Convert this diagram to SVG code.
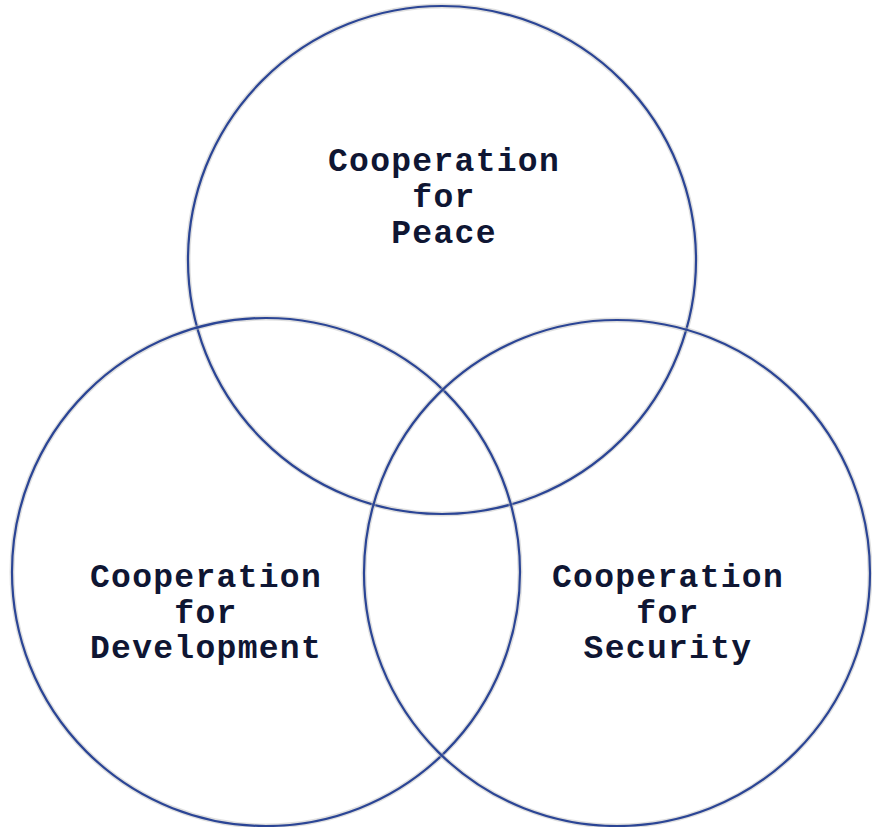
<svg xmlns="http://www.w3.org/2000/svg" width="872" height="827" viewBox="0 0 872 827">
  <style>
    .halo { fill: none; stroke: #b8b8b8; stroke-width: 5; stroke-opacity: 0.45; }
    .ring { fill: none; stroke: #2b4595; stroke-width: 2.2; }
    .label { font-family: "Liberation Mono", "Courier New", monospace; font-weight: bold; font-size: 33px; letter-spacing: 1.3px; fill: #0f1633; text-anchor: middle; }
  </style>
  <rect width="872" height="827" fill="#ffffff"/>
  <g id="circles">
    <g id="peace">
      <circle class="halo" cx="442" cy="260" r="254"/>
      <circle class="ring" cx="442" cy="260" r="254"/>
    </g>
    <g id="development">
      <circle class="halo" cx="266" cy="572" r="254"/>
      <circle class="ring" cx="266" cy="572" r="254"/>
    </g>
    <g id="security">
      <circle class="halo" cx="617" cy="573" r="253"/>
      <circle class="ring" cx="617" cy="573" r="253"/>
    </g>
  </g>
  <g id="labels">
    <g id="peace-label">
      <text class="label" x="444" y="171">Cooperation</text>
      <text class="label" x="444" y="207">for</text>
      <text class="label" x="444" y="243">Peace</text>
    </g>
    <g id="development-label">
      <text class="label" x="206" y="587">Cooperation</text>
      <text class="label" x="206" y="623">for</text>
      <text class="label" x="206" y="658">Development</text>
    </g>
    <g id="security-label">
      <text class="label" x="668" y="587">Cooperation</text>
      <text class="label" x="668" y="623">for</text>
      <text class="label" x="668" y="658">Security</text>
    </g>
  </g>
</svg>
